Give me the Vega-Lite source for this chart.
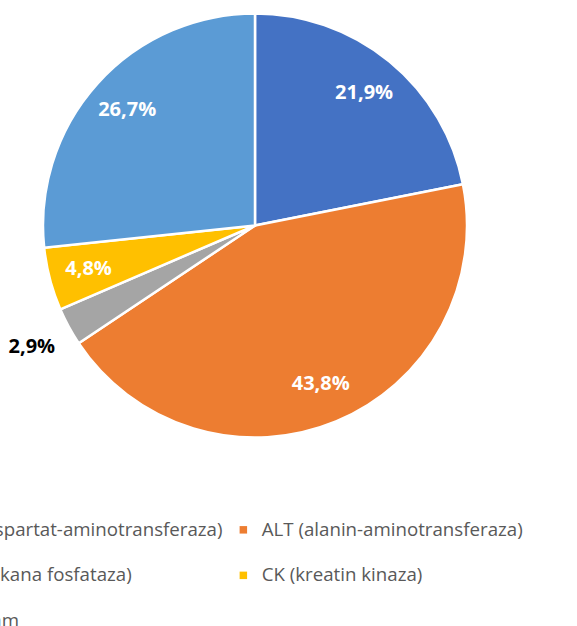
{
  "$schema": "https://vega.github.io/schema/vega-lite/v6.json",
  "width": 510,
  "height": 451,
  "autosize": {"type": "none"},
  "padding": {"left": 0, "top": 0, "right": 67, "bottom": 175},
  "background": "white",
  "config": {
    "view": {"stroke": null},
    "locale": {"number": {"decimal": ",", "thousands": ".", "grouping": [3], "currency": ["", " €"]}}
  },
  "data": {
    "values": [
      {"name": "AST (aspartat-aminotransferaza)", "share": 0.219},
      {"name": "ALT (alanin-aminotransferaza)", "share": 0.438},
      {"name": "ALP (alkana fosfataza)", "share": 0.029},
      {"name": "CK (kreatin kinaza)", "share": 0.048},
      {"name": "Ne znam", "share": 0.267}
    ]
  },
  "transform": [
    {"calculate": "indexof(['AST (aspartat-aminotransferaza)', 'ALT (alanin-aminotransferaza)', 'ALP (alkana fosfataza)', 'CK (kreatin kinaza)', 'Ne znam'], datum.name)", "as": "rank"}
  ],
  "encoding": {
    "theta": {"field": "share", "type": "quantitative", "stack": true},
    "order": {"field": "rank", "type": "quantitative", "sort": "ascending"},
    "color": {
      "field": "name",
      "type": "nominal",
      "scale": {
        "domain": ["AST (aspartat-aminotransferaza)", "ALT (alanin-aminotransferaza)", "ALP (alkana fosfataza)", "CK (kreatin kinaza)", "Ne znam"],
        "range": ["#4472C4", "#ED7D31", "#A5A5A5", "#FFC000", "#5B9BD5"]
      },
      "legend": {
        "title": null,
        "orient": "none",
        "legendX": -86,
        "legendY": 520,
        "padding": 0,
        "direction": "horizontal",
        "columns": 2,
        "columnPadding": 11,
        "rowPadding": 26,
        "symbolType": "square",
        "symbolSize": 56,
        "symbolStrokeWidth": 0,
        "labelFont": "Open Sans",
        "labelFontSize": 18.7,
        "labelColor": "#595959",
        "labelOffset": 9,
        "labelLimit": 0
      }
    }
  },
  "layer": [
    {
      "mark": {"type": "arc", "outerRadius": 212, "stroke": "white", "strokeWidth": 2.5}
    },
    {
      "mark": {"type": "text", "radius": 172, "font": "Open Sans", "fontSize": 20, "fontWeight": "bold", "fill": "white"},
      "encoding": {
        "text": {
          "condition": {"test": "datum.name !== 'ALP (alkana fosfataza)'", "field": "share", "type": "quantitative", "format": ".1%"},
          "value": ""
        }
      }
    },
    {
      "mark": {"type": "text", "radius": 254, "font": "Open Sans", "fontSize": 20, "fontWeight": "bold", "fill": "black"},
      "encoding": {
        "text": {
          "condition": {"test": "datum.name === 'ALP (alkana fosfataza)'", "field": "share", "type": "quantitative", "format": ".1%"},
          "value": ""
        }
      }
    }
  ]
}
